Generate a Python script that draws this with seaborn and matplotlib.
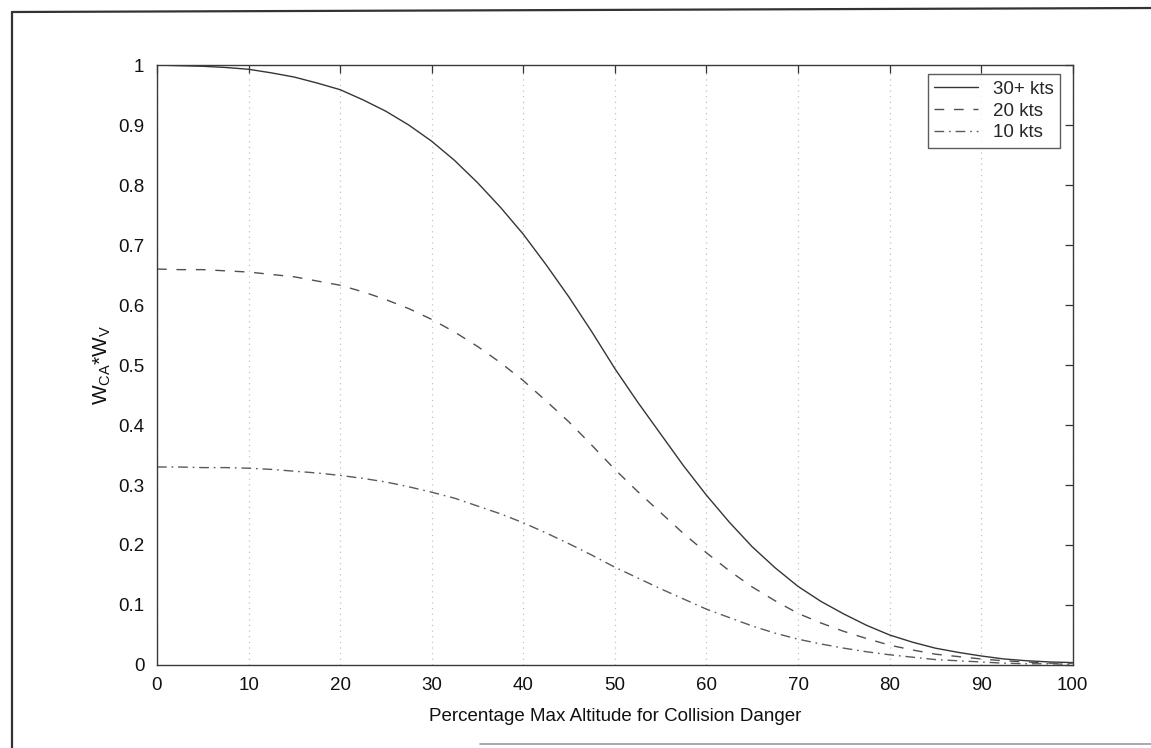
import matplotlib
matplotlib.use("Agg")
import matplotlib.pyplot as plt
from matplotlib.lines import Line2D
import seaborn as sns
import pandas as pd

# ---- data ----
pct_alt = [0, 2.5, 5, 7.5, 10, 12.5, 15, 17.5, 20, 22.5, 25, 27.5, 30, 32.5, 35, 37.5,
           40, 42.5, 45, 47.5, 50, 52.5, 55, 57.5, 60, 62.5, 65, 67.5, 70, 72.5,
           75, 77.5, 80, 82.5, 85, 87.5, 90, 92.5, 95, 97.5, 100]
w_30kts = [1.000, 0.999, 0.998, 0.996, 0.993, 0.987, 0.980, 0.970, 0.959, 0.942,
           0.923, 0.900, 0.873, 0.841, 0.804, 0.763, 0.718, 0.667, 0.613, 0.555,
           0.494, 0.438, 0.385, 0.332, 0.283, 0.238, 0.197, 0.162, 0.131, 0.106,
           0.085, 0.066, 0.050, 0.038, 0.028, 0.021, 0.015, 0.010, 0.007, 0.005, 0.004]
w_20kts = [0.660, 0.659, 0.659, 0.657, 0.655, 0.651, 0.647, 0.640, 0.633, 0.622,
           0.609, 0.594, 0.576, 0.555, 0.531, 0.504, 0.474, 0.440, 0.405, 0.366,
           0.326, 0.289, 0.254, 0.219, 0.187, 0.157, 0.130, 0.107, 0.086, 0.070,
           0.056, 0.044, 0.033, 0.025, 0.018, 0.014, 0.010, 0.007, 0.005, 0.003, 0.003]
w_10kts = [0.330, 0.330, 0.329, 0.329, 0.328, 0.326, 0.323, 0.320, 0.316, 0.311,
           0.305, 0.297, 0.288, 0.278, 0.265, 0.252, 0.237, 0.220, 0.202, 0.183,
           0.163, 0.145, 0.127, 0.110, 0.093, 0.079, 0.065, 0.053, 0.043, 0.035,
           0.028, 0.022, 0.017, 0.013, 0.009, 0.007, 0.005, 0.003, 0.002, 0.002, 0.001]
series_names = ["30+ kts", "20 kts", "10 kts"]
x_ticks = [0, 10, 20, 30, 40, 50, 60, 70, 80, 90, 100]
y_ticks = [0, 0.1, 0.2, 0.3, 0.4, 0.5, 0.6, 0.7, 0.8, 0.9, 1]
y_ticklabels = ["0", "0.1", "0.2", "0.3", "0.4", "0.5", "0.6", "0.7", "0.8", "0.9", "1"]

rows = []
for name, vals in zip(series_names, [w_30kts, w_20kts, w_10kts]):
    for xv, yv in zip(pct_alt, vals):
        rows.append({"x": xv, "y": yv, "series": name})
df = pd.DataFrame(rows)

sns.set_theme(style="white")
plt.rcParams["font.family"] = ["Liberation Sans", "DejaVu Sans"]
plt.rcParams["mathtext.fontset"] = "custom"
plt.rcParams["mathtext.rm"] = "Liberation Sans"
plt.rcParams["mathtext.it"] = "Liberation Sans"

fig = plt.figure(figsize=(11.51, 7.48), dpi=100)
fig.patch.set_facecolor("white")
ax = fig.add_axes([0.1364, 0.111, 0.7956, 0.802])

palette = {"30+ kts": "#353535", "20 kts": "#505050", "10 kts": "#5a5a5a"}
dashes = {"30+ kts": "", "20 kts": (7, 7), "10 kts": (7, 3.5, 1.2, 3.5)}
sns.lineplot(data=df, x="x", y="y", hue="series", style="series",
             hue_order=series_names, style_order=series_names,
             palette=palette, dashes=dashes, linewidth=1.0, ax=ax)

ax.set_xlim(0, 100)
ax.set_ylim(0, 1)
ax.set_xticks(x_ticks)
ax.set_yticks(y_ticks)
ax.set_yticklabels(y_ticklabels)
ax.tick_params(direction="in", length=6, width=0.9, color="#333333",
               top=True, right=True, labelsize=13.5, pad=9, labelcolor="#111111")
ax.xaxis.grid(True, linestyle=(0, (1, 3.5)), color="#c2c2c2", linewidth=0.9)
ax.yaxis.grid(False)
for sp in ax.spines.values():
    sp.set_color("#3a3a3a")
    sp.set_linewidth(1.0)

ax.set_xlabel("Percentage Max Altitude for Collision Danger", fontsize=13.5,
              color="#111111", labelpad=10)
ax.set_ylabel("W$_{CA}$*W$_V$", fontsize=15, color="#111111", labelpad=4)

handles, labels = ax.get_legend_handles_labels()
leg = ax.legend(handles, labels, loc="upper right", bbox_to_anchor=(0.986, 0.985),
                fontsize=13.5, frameon=True, fancybox=False, edgecolor="#333333",
                handlelength=2.3, handletextpad=0.8, borderpad=0.35,
                labelspacing=0.25, borderaxespad=0.0)
leg.get_frame().set_linewidth(1.0)
leg.get_frame().set_facecolor("white")

# outer frame of the scanned figure
fig.add_artist(Line2D([12 / 1151, 12 / 1151], [0, 1 - 12 / 748],
                      transform=fig.transFigure, color="#333333", linewidth=1.6))
fig.add_artist(Line2D([12 / 1151, 1.0], [1 - 12 / 748, 1 - 8 / 748],
                      transform=fig.transFigure, color="#333333", linewidth=1.6))
fig.add_artist(Line2D([480 / 1151, 1.0], [1 - 744 / 748, 1 - 744 / 748],
                      transform=fig.transFigure, color="#999999", linewidth=1.2))

fig.savefig("out.png", dpi=100, facecolor="white")
